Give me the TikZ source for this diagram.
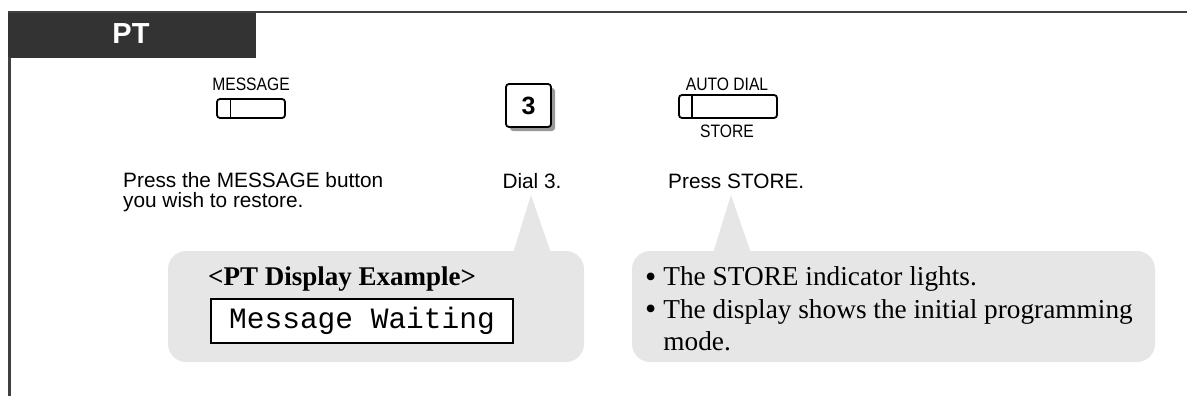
\documentclass[tikz,border=0pt]{standalone}
\usepackage{fontspec}
\setmainfont{Liberation Serif}
\setsansfont{Liberation Sans}
\setmonofont{Liberation Mono}
\newfontfamily\narrowsans[FakeStretch=0.87]{Liberation Sans}
\definecolor{darkbar}{HTML}{333333}
\definecolor{rulegray}{HTML}{404040}
\definecolor{bubble}{HTML}{E6E6E6}
\definecolor{keyshadow}{HTML}{999999}
\newcommand{\bigbul}{\raisebox{-1.5pt}{\fontsize{32}{32}\selectfont•}}
\begin{document}
\begin{tikzpicture}[x=1pt,y=-1pt,
  sanslabel/.style={font=\narrowsans\fontsize{18}{20}\selectfont, inner sep=0pt},
  sanstext/.style={font=\sffamily\fontsize{20.8}{20}\selectfont, inner sep=0pt},
  btn/.style={draw=black, line width=1.8pt, rounded corners=3pt},
  bubblefill/.style={fill=bubble, draw=none}]
\useasboundingbox (0,0) rectangle (1187,396);
% header
\fill[darkbar] (8,11) rectangle (256,58);
\draw[rulegray, line width=2.5pt] (8,12) -- (1187,12);
\draw[rulegray, line width=2.5pt] (9.5,57) -- (9.5,396);
\node[font=\sffamily\bfseries\fontsize{29}{30}\selectfont, text=white, inner sep=0pt] (pt) at (131,34) {PT};
% MESSAGE button
\node[sanslabel] (msglbl) at (251,84) {MESSAGE};
\draw[btn] (217,99) rectangle (285,118);
\draw[black, line width=1.8pt] (230.5,99) -- (230.5,118);
% key 3
\fill[keyshadow, rounded corners=3pt] (510,88) rectangle (555,131);
\draw[btn, fill=white] (506,84) rectangle (551,127);
\node[font=\sffamily\bfseries\fontsize{25}{27}\selectfont, inner sep=0pt] (key3) at (528.5,106) {3};
% AUTO DIAL / STORE button
\node[sanslabel] (autolbl) at (727,84) {AUTO DIAL};
\draw[btn] (679,95) rectangle (777,118);
\draw[black, line width=1.8pt] (692,95) -- (692,118);
\node[sanslabel] (storelbl) at (727,131) {STORE};
% step texts
\node[sanstext, anchor=base west, align=left] (t1) at (123,207) {Press the MESSAGE button\\you wish to restore.};
\node[sanstext, anchor=base] (t2) at (532,188) {Dial 3.};
\node[sanstext, anchor=base west] (t3) at (668,188) {Press STORE.};
% left callout
\fill[bubblefill, rounded corners=18pt] (168,251) rectangle (584,362);
\fill[bubblefill] (513,253) -- (531,195) -- (551,253) -- cycle;
\node[font=\rmfamily\bfseries\fontsize{27}{28}\selectfont, anchor=base west, inner sep=0pt] (dispttl) at (208,285) {<PT Display Example>};
\node[draw=black, line width=1.2pt, fill=white, minimum width=302pt, minimum height=44pt, inner sep=0pt,
      font=\ttfamily\fontsize{29.5}{30}\selectfont] (disp) at (362,321) {Message Waiting};
% right callout
\fill[bubblefill, rounded corners=18pt] (632,251) rectangle (1155,362);
\fill[bubblefill] (713,253) -- (731,195) -- (751,253) -- cycle;
\node[font=\rmfamily\fontsize{27.3}{32.3}\selectfont, anchor=north west, inner sep=0pt] (notes) at (645,263)
  {\begin{tabular}{@{}l@{\hspace{7pt}}l@{}}\bigbul&The STORE indicator lights.\\ \bigbul&The display shows the initial programming\\ &mode.\end{tabular}};
\end{tikzpicture}
\end{document}
